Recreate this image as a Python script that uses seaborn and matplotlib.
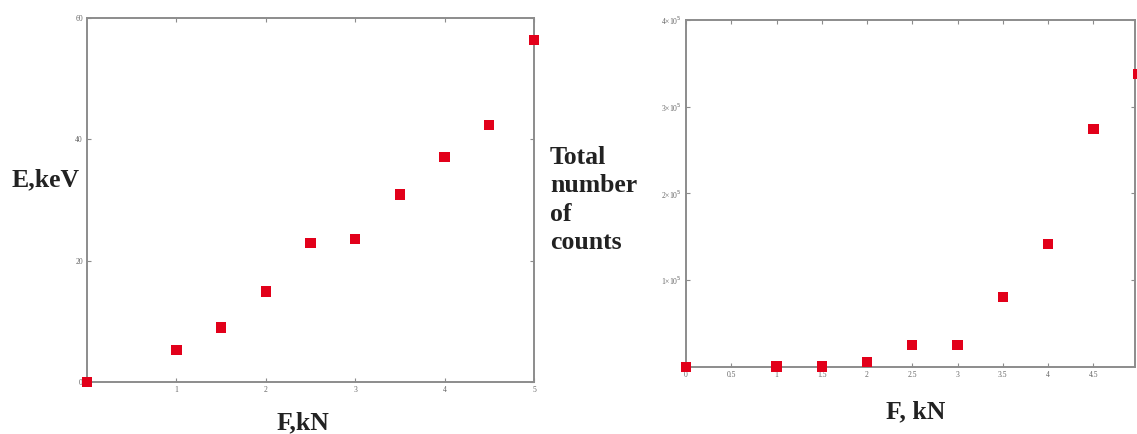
import matplotlib
matplotlib.use("Agg")
import matplotlib.pyplot as plt
import seaborn as sns
import pandas as pd

# Left panel data
force_left = [0, 1, 1.5, 2, 2.5, 3, 3.5, 4, 4.5, 5]
energy_kev = [0, 5.3, 9.0, 14.9, 22.9, 23.6, 30.9, 37.1, 42.4, 56.4]

# Right panel data
force_right = [0, 1, 1.5, 2, 2.5, 3, 3.5, 4, 4.5, 5]
total_counts = [0, 500, 500, 6000, 25000, 25000, 81000, 142000, 274000, 338000]

left_xticks = [1, 2, 3, 4, 5]
left_yticks = [0, 20, 40, 60]
right_xticks = [0, 0.5, 1, 1.5, 2, 2.5, 3, 3.5, 4, 4.5]
right_xticklabels = ["0", "0.5", "1", "1.5", "2", "2.5", "3", "3.5", "4", "4.5"]
right_yticks = [100000, 200000, 300000, 400000]
right_yticklabels = ["1×10$^5$", "2×10$^5$", "3×10$^5$", "4×10$^5$"]

sns.set_theme(style="white")
plt.rcParams["font.family"] = ["Liberation Serif", "DejaVu Serif"]

fig = plt.figure(figsize=(11.37, 4.34), dpi=100)
ax1 = fig.add_axes([87/1137, 1-382/434, (534-87)/1137, (382-18)/434])
ax2 = fig.add_axes([686/1137, 1-367/434, (1135-686)/1137, (367-20)/434])

red = "#e2001a"
df1 = pd.DataFrame({"F": force_left, "E": energy_kev})
df2 = pd.DataFrame({"F": force_right, "N": total_counts})

sns.scatterplot(data=df1, x="F", y="E", ax=ax1, marker="s", s=55, color=red,
                edgecolor="none", clip_on=False, zorder=5)
sns.scatterplot(data=df2, x="F", y="N", ax=ax2, marker="s", s=55, color=red,
                edgecolor="none", clip_on=False, zorder=5)

ax1.set_xlim(0, 5)
ax1.set_ylim(0, 60)
ax1.set_xticks(left_xticks)
ax1.set_yticks(left_yticks)

ax2.set_xlim(0, 4.96)
ax2.set_ylim(0, 400000)
ax2.set_xticks(right_xticks)
ax2.set_xticklabels(right_xticklabels)
ax2.set_yticks(right_yticks)
ax2.set_yticklabels(right_yticklabels)

for ax in (ax1, ax2):
    for sp in ax.spines.values():
        sp.set_visible(True)
        sp.set_color("#8c8c8c")
        sp.set_linewidth(1.4)
    ax.tick_params(direction="in", length=3, width=0.8, color="#8c8c8c",
                   labelsize=5.5, labelcolor="#666666", top=True, right=True,
                   bottom=True, left=True, pad=3)
    ax.set_xlabel("")
    ax.set_ylabel("")

label_kw = dict(fontweight="bold", fontsize=18.5, color="#222222")
fig.text(12/1137, 1-180/434, "E,keV", ha="left", va="center", **label_kw)
fig.text(303/1137, 1-423/434, "F,kN", ha="center", va="center", **label_kw)
fig.text(550/1137, 1-146/434, "Total\nnumber\nof\ncounts", ha="left", va="top",
         linespacing=1.3, **label_kw)
fig.text(916/1137, 1-412/434, "F, kN", ha="center", va="center", **label_kw)

fig.savefig("out.png", dpi=100)
